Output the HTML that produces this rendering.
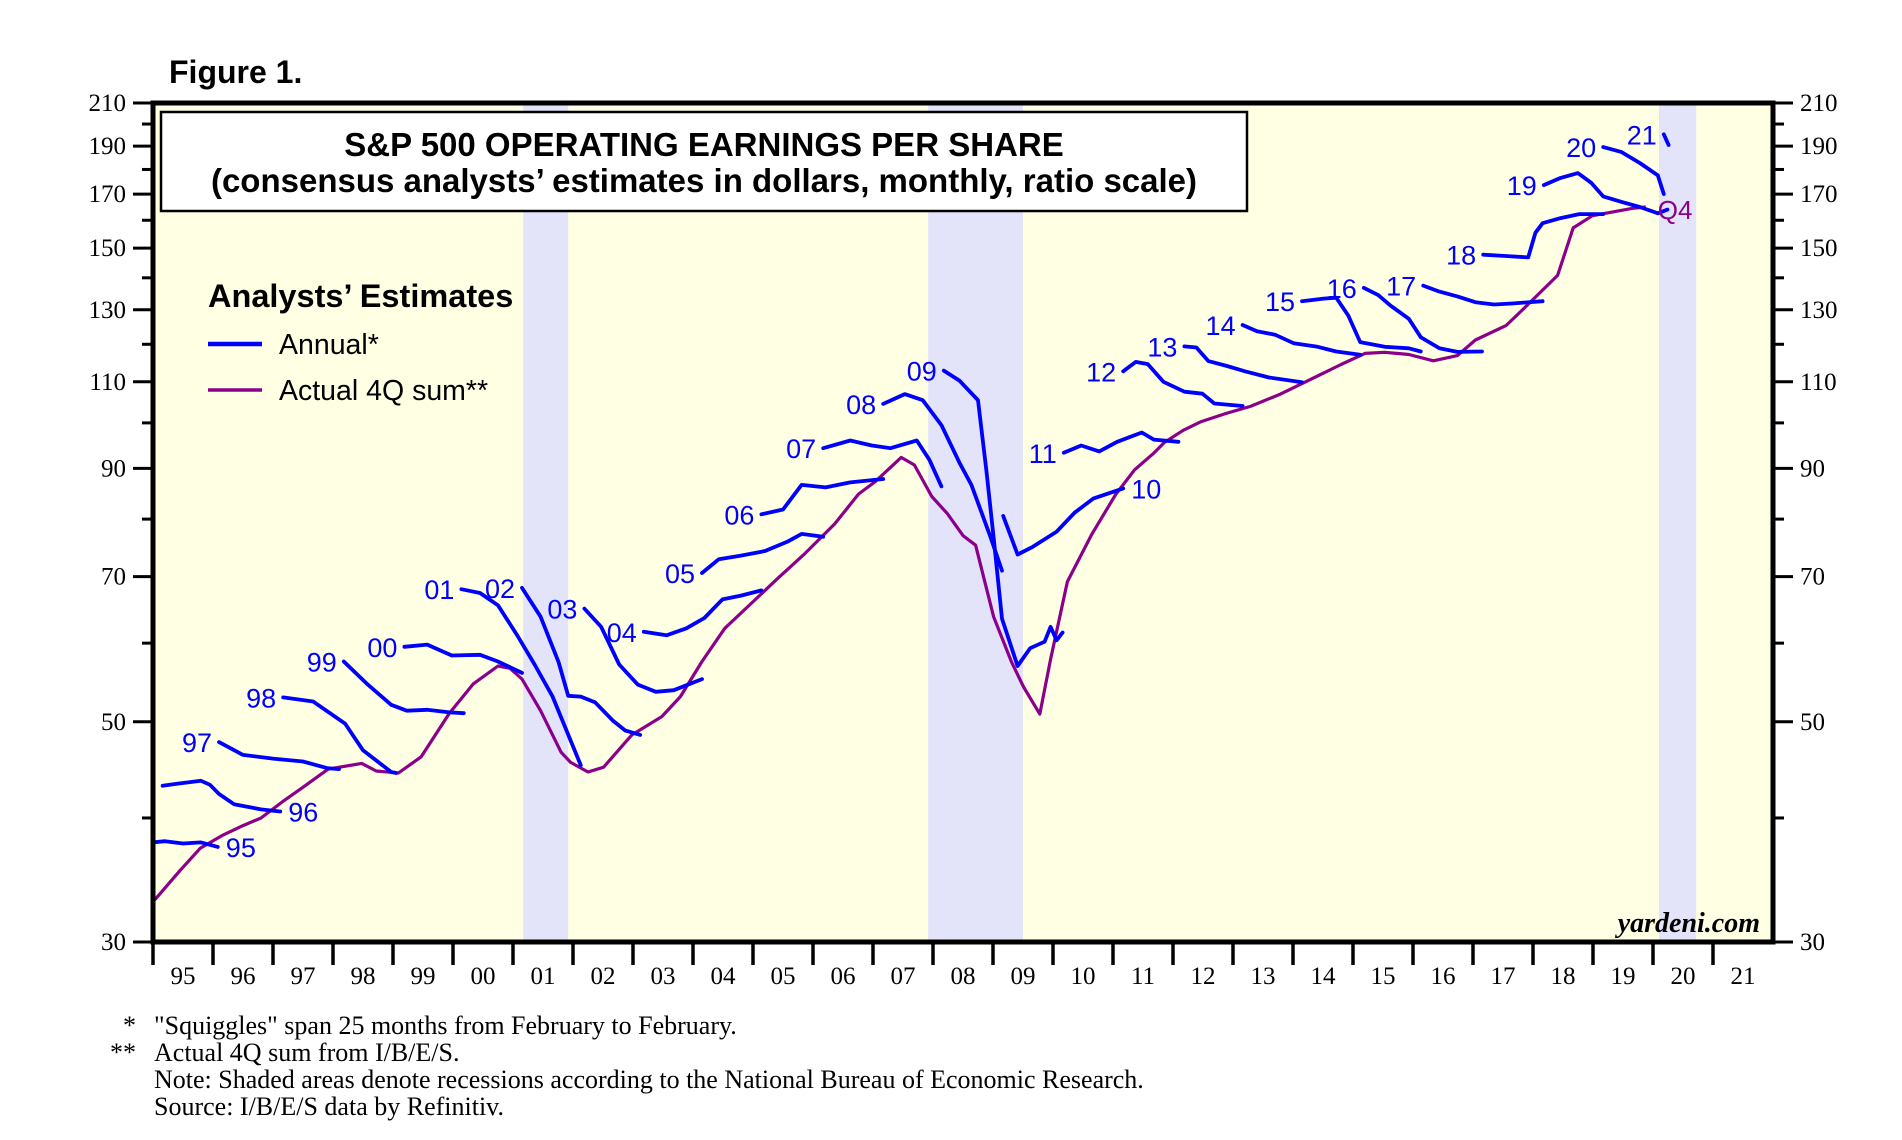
<!DOCTYPE html>
<html><head><meta charset="utf-8"><style>
html,body{margin:0;padding:0;background:#fff;}
svg{display:block;}
.ser{font-family:"Liberation Serif",serif;}
.san{font-family:"Liberation Sans",sans-serif;}
</style></head><body>
<svg id="chart" width="1902" height="1140" viewBox="0 0 1902 1140" xmlns="http://www.w3.org/2000/svg">
<defs><clipPath id="plotclip"><rect x="155" y="105" width="1616" height="835"/></clipPath></defs>
<text x="169" y="83" class="san" font-size="32" font-weight="bold">Figure 1.</text>
<rect x="153" y="103" width="1620" height="839" fill="#ffffe3"/>
<g id="recessions"></g>
<g id="ticks"></g>
<g id="series" clip-path="url(#plotclip)"></g>
<rect x="153" y="103" width="1620" height="839" fill="none" stroke="#000" stroke-width="5"/>
<rect x="161" y="112" width="1086" height="99" fill="#fff" stroke="#000" stroke-width="2.5"/>
<text x="704" y="156" text-anchor="middle" class="san" font-size="33" font-weight="bold">S&amp;P 500 OPERATING EARNINGS PER SHARE</text>
<text x="704" y="192" text-anchor="middle" class="san" font-size="33" font-weight="bold">(consensus analysts’ estimates in dollars, monthly, ratio scale)</text>
<g>
<text x="208" y="307" class="san" font-size="32.5" font-weight="bold">Analysts’ Estimates</text>
<line x1="208" y1="344" x2="262" y2="344" stroke="#0000ff" stroke-width="4.5"/>
<text x="279" y="354" class="san" font-size="28.5">Annual*</text>
<line x1="208" y1="390" x2="262" y2="390" stroke="#8b008b" stroke-width="3.5"/>
<text x="279" y="400" class="san" font-size="28.5">Actual 4Q sum**</text>
</g>
<text x="1760" y="932" text-anchor="end" class="ser" font-size="28" font-weight="bold" font-style="italic">yardeni.com</text>
<g class="ser" font-size="26">
<text x="136" y="1034" text-anchor="end">*</text>
<text x="154" y="1034">"Squiggles" span 25 months from February to February.</text>
<text x="136" y="1061" text-anchor="end">**</text>
<text x="154" y="1061">Actual 4Q sum from I/B/E/S.</text>
<text x="154" y="1088">Note: Shaded areas denote recessions according to the National Bureau of Economic Research.</text>
<text x="154" y="1115">Source: I/B/E/S data by Refinitiv.</text>
</g>
</svg>
<script>
const yearLabels = ["95","96","97","98","99","00","01","02","03","04","05","06","07","08","09","10","11","12","13","14","15","16","17","18","19","20","21"];
const yTickMajor = [210,190,170,150,130,110,90,70,50,30];
const yTickMinor = [200,180,160,140,120,100,80,60,40];
const recessionStarts = [2001.17, 2007.92, 2020.1];
const recessionEnds = [2001.92, 2009.5, 2020.72];
const actualDates = [1994.9,1995.45,1995.79,1996.15,1996.5,1996.8,1997.15,1997.51,1997.92,1998.48,1998.72,1999.09,1999.47,1999.94,2000.34,2000.75,2000.95,2001.15,2001.46,2001.8,2001.96,2002.25,2002.51,2002.98,2003.48,2003.79,2004.15,2004.53,2004.96,2005.4,2005.87,2006.36,2006.76,2007.04,2007.47,2007.69,2007.98,2008.24,2008.5,2008.71,2009.01,2009.31,2009.51,2009.78,2009.96,2010.24,2010.65,2011.05,2011.36,2011.66,2011.86,2012.17,2012.47,2012.88,2013.29,2013.79,2014.29,2014.8,2015.2,2015.53,2015.93,2016.34,2016.74,2017.04,2017.55,2017.85,2018.41,2018.67,2018.99,2019.66,2019.88];
const actualValues = [32.4,35.4,37.3,38.4,39.3,40,41.5,43,44.8,45.4,44.6,44.4,46.1,51,54.6,56.9,56.6,55.2,51.3,46.6,45.5,44.5,45,48.5,50.6,53,57.5,62.1,65.7,69.6,73.9,79.1,84.8,87.3,92.3,90.7,84.3,81,77,75.3,63.8,57.4,54.2,50.9,57.8,69.2,77.3,84.8,89.7,93,95.6,98.3,100.3,102.2,103.9,106.9,110.6,114.5,117.5,117.8,117.2,115.5,116.9,121.2,125.3,130.4,140.8,157.2,161.7,164.5,165];
const est1995 = [[1994.1,37.5],[1994.6,37.6],[1995.0,37.8],[1995.2,37.9],[1995.5,37.7],[1995.8,37.8],[1996.08,37.4]];
const est1996 = [[1995.16,43.1],[1995.4,43.3],[1995.8,43.6],[1995.95,43.2],[1996.1,42.3],[1996.35,41.3],[1996.8,40.8],[1997.12,40.6]];
const est1997 = [[1996.1,47.7],[1996.5,46.3],[1997.0,45.9],[1997.5,45.6],[1997.9,44.9],[1998.1,44.8]];
const est1998 = [[1997.17,52.9],[1997.67,52.4],[1998.2,49.8],[1998.5,46.8],[1998.97,44.5],[1999.05,44.4]];
const est1999 = [[1998.18,57.5],[1998.58,54.5],[1998.97,52.0],[1999.23,51.3],[1999.57,51.4],[1999.94,51.1],[2000.18,51.0]];
const est2000 = [[1999.19,59.5],[1999.57,59.8],[1999.98,58.3],[2000.45,58.4],[2000.75,57.5],[2001.15,56]];
const est2001 = [[2000.14,68],[2000.45,67.4],[2000.75,65.5],[2001.07,61.1],[2001.36,57.1],[2001.66,53],[2002.13,45.2]];
const est2002 = [[2001.15,68.2],[2001.46,63.8],[2001.76,57.4],[2001.92,53.1],[2002.13,53],[2002.37,52.3],[2002.67,50.1],[2002.87,49],[2003.12,48.5]];
const est2003 = [[2002.19,65],[2002.47,62.3],[2002.77,57.1],[2003.08,54.5],[2003.38,53.6],[2003.68,53.8],[2004.15,55.2]];
const est2004 = [[2003.18,61.6],[2003.56,61.1],[2003.89,62.1],[2004.19,63.6],[2004.49,66.4],[2004.8,67],[2005.14,67.8]];
const est2005 = [[2004.15,70.6],[2004.43,72.9],[2004.8,73.5],[2005.2,74.3],[2005.57,75.9],[2005.81,77.3],[2006.17,76.8]];
const est2006 = [[2005.14,80.9],[2005.5,81.8],[2005.81,86.6],[2006.21,86.1],[2006.62,87.1],[2007.17,87.8]];
const est2007 = [[2006.17,94.3],[2006.62,96],[2006.98,94.9],[2007.29,94.3],[2007.73,96],[2007.94,91.8],[2008.14,86.3]];
const est2008 = [[2007.17,104.5],[2007.53,106.9],[2007.83,105.4],[2008.14,99.5],[2008.44,91.2],[2008.64,86.6],[2008.95,77],[2009.15,71]];
const est2009 = [[2008.18,112.9],[2008.44,110.3],[2008.75,105.4],[2008.89,89.5],[2009.01,76.7],[2009.15,63.5],[2009.41,56.9],[2009.62,59.3],[2009.86,60.2],[2009.96,62.3],[2010.06,60.4],[2010.16,61.5]];
const est2010 = [[2009.17,80.6],[2009.41,73.7],[2009.66,75],[2010.06,77.7],[2010.36,81.2],[2010.67,83.9],[2011.17,85.9]];
const est2011 = [[2010.18,93.3],[2010.47,94.9],[2010.77,93.6],[2011.07,95.7],[2011.48,97.8],[2011.68,96.2],[2012.09,95.7]];
const est2012 = [[2011.17,112.7],[2011.38,115.2],[2011.58,114.6],[2011.84,110],[2012.19,107.5],[2012.49,107],[2012.69,104.6],[2013.16,104]];
const est2013 = [[2012.19,119.4],[2012.39,119.1],[2012.59,115.4],[2012.9,114.1],[2013.2,112.7],[2013.6,111.1],[2014.15,109.9]];
const est2014 = [[2013.16,125.5],[2013.4,123.7],[2013.7,122.7],[2014.01,120.3],[2014.41,119.3],[2014.72,118],[2015.12,117.1]];
const est2015 = [[2014.15,132.6],[2014.51,133.4],[2014.72,133.7],[2014.92,128.3],[2015.12,120.6],[2015.53,119.3],[2015.93,118.9],[2016.13,118]];
const est2016 = [[2015.18,136.8],[2015.42,134.5],[2015.63,131.2],[2015.93,127.3],[2016.13,122],[2016.44,118.9],[2016.74,117.9],[2017.15,118]];
const est2017 = [[2016.17,137.5],[2016.44,135.6],[2016.74,134.1],[2017.04,132.3],[2017.35,131.6],[2017.65,131.9],[2018.16,132.6]];
const est2018 = [[2017.17,147.7],[2017.51,147.3],[2017.92,146.8],[2018.04,155.4],[2018.16,158.9],[2018.46,160.8],[2018.77,162.3],[2019.17,162.3]];
const est2019 = [[2018.18,173.6],[2018.46,176.5],[2018.75,178.5],[2018.97,174.5],[2019.17,169.1],[2019.47,167],[2019.78,165],[2020.08,162.6],[2020.24,164]];
const est2020 = [[2019.17,189.6],[2019.47,187.5],[2019.78,182.7],[2020.08,177.6],[2020.18,170]];
const est2021 = [[2020.18,195.3],[2020.26,190.5]];
const squiggles = [est1995,est1996,est1997,est1998,est1999,est2000,est2001,est2002,est2003,est2004,est2005,est2006,est2007,est2008,est2009,est2010,est2011,est2012,est2013,est2014,est2015,est2016,est2017,est2018,est2019,est2020,est2021];
const squiggleLabels = ["95","96","97","98","99","00","01","02","03","04","05","06","07","08","09","10","11","12","13","14","15","16","17","18","19","20","21"];
const labelAtEnd = ["95","96","10"];

const NS = "http://www.w3.org/2000/svg";
const X0 = 153, YW = 60, YT = 103, YB = 942;
function xScale(t){ return X0 + (t - 1995) * YW; }
function yScale(v){ return YT + Math.log(210 / v) / Math.log(7) * (YB - YT); }
function mk(tag, attrs, parent){ const e = document.createElementNS(NS, tag); for (const k in attrs) e.setAttribute(k, attrs[k]); parent.appendChild(e); return e; }

const rec = document.getElementById('recessions');
recessionStarts.forEach((s, i) => {
  const r = mk('rect', {x: xScale(s), y: YT, width: xScale(recessionEnds[i]) - xScale(s), height: YB - YT, fill: '#e3e3fa'}, rec);
  
  
});

const tk = document.getElementById('ticks');
yTickMajor.forEach(v => {
  const y = yScale(v);
  const l1 = mk('line', {x1: 133, x2: 153, y1: y, y2: y, stroke: '#000', 'stroke-width': 3}, tk);
  
  
  const l2 = mk('line', {x1: 1773, x2: 1793, y1: y, y2: y, stroke: '#000', 'stroke-width': 3}, tk);
  
  
  const t1 = mk('text', {x: 126, y: y + 8, 'text-anchor': 'end', 'font-size': 25, 'font-family': '"Liberation Serif", serif'}, tk);
  t1.textContent = v;
  
  
  const t2 = mk('text', {x: 1800, y: y + 8, 'font-size': 25, 'font-family': '"Liberation Serif", serif'}, tk);
  t2.textContent = v;
  
  
});
yTickMinor.forEach(v => {
  const y = yScale(v);
  const l1 = mk('line', {x1: 142, x2: 153, y1: y, y2: y, stroke: '#000', 'stroke-width': 3}, tk);
  
  
  const l2 = mk('line', {x1: 1773, x2: 1784, y1: y, y2: y, stroke: '#000', 'stroke-width': 3}, tk);
  
  
});
yearLabels.forEach((lab, i) => {
  const x = xScale(1995 + i);
  const l = mk('line', {x1: x, x2: x, y1: YB, y2: 965, stroke: '#000', 'stroke-width': 3.5}, tk);
  
  
  const t = mk('text', {x: x + YW / 2, y: 984, 'text-anchor': 'middle', 'font-size': 25, 'font-family': '"Liberation Serif", serif'}, tk);
  t.textContent = lab;
  
  
});

const sg = document.getElementById('series');
const ap = mk('path', {d: actualDates.map((d, i) => (i ? 'L' : 'M') + xScale(d).toFixed(1) + ',' + yScale(actualValues[i]).toFixed(1)).join(''), fill: 'none', stroke: '#8b008b', 'stroke-width': 3.2, 'stroke-linejoin': 'round'}, sg);



squiggles.forEach((s, i) => {
  const p = mk('path', {d: s.map((pt, j) => (j ? 'L' : 'M') + xScale(pt[0]).toFixed(1) + ',' + yScale(pt[1]).toFixed(1)).join(''), fill: 'none', stroke: '#0000ff', 'stroke-width': 3.8, 'stroke-linejoin': 'round', 'stroke-linecap': 'round'}, sg);
  
  
  const atEnd = labelAtEnd.includes(squiggleLabels[i]);
  const pt = atEnd ? s[s.length - 1] : s[0];
  const t = mk('text', {x: xScale(pt[0]) + (atEnd ? 8 : -7), y: yScale(pt[1]) + 10, 'text-anchor': atEnd ? 'start' : 'end', 'font-size': 27, fill: '#0000ff', 'font-family': '"Liberation Sans", sans-serif'}, sg);
  t.textContent = squiggleLabels[i];
  
  
});
const q4 = mk('text', {x: xScale(actualDates[actualDates.length - 1]) + 12, y: yScale(actualValues[actualValues.length - 1]) + 12, 'font-size': 26, fill: '#8b008b', 'font-family': '"Liberation Sans", sans-serif'}, document.getElementById('chart'));
q4.textContent = 'Q4';


</script>
</body></html>
